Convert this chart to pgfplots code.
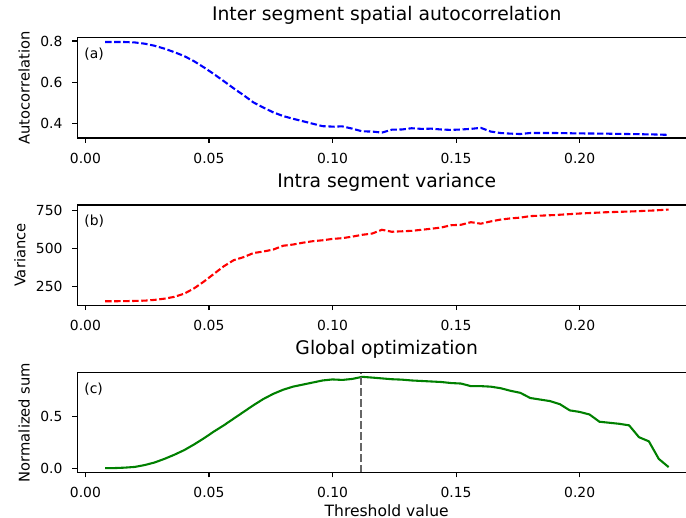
\documentclass[border=0pt]{standalone}
\usepackage{pgfplots}
\pgfplotsset{compat=1.18}
\usepackage{fontspec}
\setmainfont{DejaVu Sans}
\definecolor{mblue}{RGB}{0,0,255}
\definecolor{mred}{RGB}{255,0,0}
\definecolor{mgreen}{RGB}{0,128,0}
\definecolor{mgray}{RGB}{102,102,102}
\pgfplotstableread{
x y
0.008 0.795
0.012 0.795
0.016 0.795
0.020 0.793
0.024 0.787
0.028 0.777
0.032 0.763
0.036 0.746
0.040 0.727
0.044 0.702
0.048 0.672
0.052 0.640
0.056 0.606
0.060 0.571
0.064 0.538
0.068 0.503
0.072 0.478
0.076 0.455
0.080 0.437
0.084 0.424
0.088 0.412
0.092 0.400
0.096 0.388
0.100 0.386
0.104 0.387
0.108 0.376
0.112 0.363
0.116 0.362
0.120 0.357
0.124 0.371
0.128 0.372
0.132 0.378
0.136 0.375
0.140 0.376
0.144 0.372
0.148 0.370
0.152 0.372
0.156 0.375
0.160 0.380
0.164 0.362
0.168 0.355
0.172 0.352
0.176 0.350
0.180 0.355
0.190 0.355
0.200 0.353
0.210 0.352
0.220 0.350
0.230 0.348
0.236 0.346
}\autocorr
\pgfplotstableread{
x y
0.008 155
0.012 155
0.016 156
0.020 157
0.024 159
0.028 164
0.032 172
0.036 184
0.040 205
0.044 240
0.048 285
0.052 335
0.056 385
0.060 425
0.064 445
0.068 472
0.072 482
0.076 495
0.080 520
0.084 528
0.088 540
0.092 550
0.096 556
0.100 565
0.104 570
0.108 580
0.112 592
0.116 600
0.120 625
0.124 612
0.128 615
0.132 618
0.136 625
0.140 632
0.144 640
0.148 655
0.152 658
0.156 675
0.160 665
0.164 680
0.168 692
0.172 700
0.176 705
0.180 715
0.190 722
0.200 732
0.210 740
0.220 745
0.230 752
0.236 758
}\variance
\pgfplotstableread{
x y
0.008 0.000
0.012 0.001
0.016 0.005
0.020 0.012
0.024 0.030
0.028 0.055
0.032 0.090
0.036 0.130
0.040 0.175
0.044 0.230
0.048 0.290
0.052 0.355
0.056 0.415
0.060 0.480
0.064 0.545
0.068 0.610
0.072 0.670
0.076 0.720
0.080 0.760
0.084 0.790
0.088 0.810
0.092 0.830
0.096 0.850
0.100 0.860
0.104 0.855
0.108 0.865
0.112 0.885
0.116 0.878
0.120 0.870
0.124 0.862
0.128 0.858
0.132 0.850
0.136 0.845
0.140 0.840
0.144 0.835
0.148 0.825
0.152 0.820
0.156 0.795
0.160 0.795
0.164 0.790
0.168 0.775
0.172 0.750
0.176 0.730
0.180 0.680
0.184 0.665
0.188 0.650
0.192 0.620
0.196 0.560
0.200 0.545
0.204 0.520
0.208 0.450
0.212 0.440
0.216 0.430
0.220 0.415
0.224 0.300
0.228 0.260
0.232 0.090
0.236 0.010
}\globalopt
\pgfplotsset{
  myaxis/.style={
    scale only axis,
    width=445.5pt, height=72.2pt,
    anchor=north west,
    xmin=-0.00327, xmax=0.2471,
    xtick={0,0.05,0.1,0.15,0.2},
    x tick label style={/pgf/number format/fixed, /pgf/number format/fixed zerofill, /pgf/number format/precision=2},
    tick align=outside,
    major tick length=3.5pt,
    tick style={black, line width=0.8pt},
    axis line style={line width=0.8pt},
    xtick pos=bottom, ytick pos=left,
    /pgf/number format/assume math mode=true,
    tick label style={font=\fontsize{10}{12}\selectfont},
    x tick label style={anchor=north, inner sep=0pt, yshift=-7pt},
    y tick label style={anchor=east, inner sep=0pt, xshift=-7pt},
    ylabel style={font=\fontsize{10.6}{12}\selectfont, yshift=4pt},
    xlabel style={font=\fontsize{11.2}{13}\selectfont, yshift=-1pt},
    title style={font=\fontsize{13.5}{16}\selectfont, at={(0.5,1)}, anchor=base, yshift=6.7pt},
    axis on top,
  },
  onedec/.style={y tick label style={/pgf/number format/fixed, /pgf/number format/fixed zerofill, /pgf/number format/precision=1}},
}
\begin{document}
\begin{tikzpicture}
\begin{axis}[myaxis, onedec, at={(55.66pt,345.1pt)},
  ymin=0.331, ymax=0.816,
  ytick={0.4,0.6,0.8},
  title={Inter segment spatial autocorrelation},
  ylabel={Autocorrelation}]
\addplot[mblue, line width=1.5pt, dash pattern=on 4.6pt off 1.9pt] table[x=x,y=y] {\autocorr};
\node[anchor=north west, inner sep=0pt, font=\fontsize{10}{12}\selectfont] at (rel axis cs:0.011,0.90) {(a)};
\end{axis}
\begin{axis}[myaxis, at={(55.66pt,224.64pt)},
  ymin=128.5, ymax=788,
  ytick={250,500,750},
  title={Intra segment variance},
  ylabel={Variance}]
\addplot[mred, line width=1.5pt, dash pattern=on 4.6pt off 1.9pt] table[x=x,y=y] {\variance};
\node[anchor=north west, inner sep=0pt, font=\fontsize{10}{12}\selectfont] at (rel axis cs:0.011,0.90) {(b)};
\end{axis}
\begin{axis}[myaxis, onedec, at={(55.66pt,104.18pt)},
  ymin=-0.043, ymax=0.929,
  ytick={0,0.5},
  title={Global optimization},
  ylabel={Normalized sum},
  xlabel={Threshold value}]
\addplot[mgreen, line width=1.5pt] table[x=x,y=y] {\globalopt};
\addplot[mgray, line width=1.5pt, dash pattern=on 5.5pt off 2.4pt] coordinates {(0.1115,-0.043) (0.1115,0.929)};
\node[anchor=north west, inner sep=0pt, font=\fontsize{10}{12}\selectfont] at (rel axis cs:0.011,0.90) {(c)};
\end{axis}
\pgfresetboundingbox
\path[use as bounding box] (0pt,0pt) rectangle (493.92pt,372.24pt);
\end{tikzpicture}
\end{document}
